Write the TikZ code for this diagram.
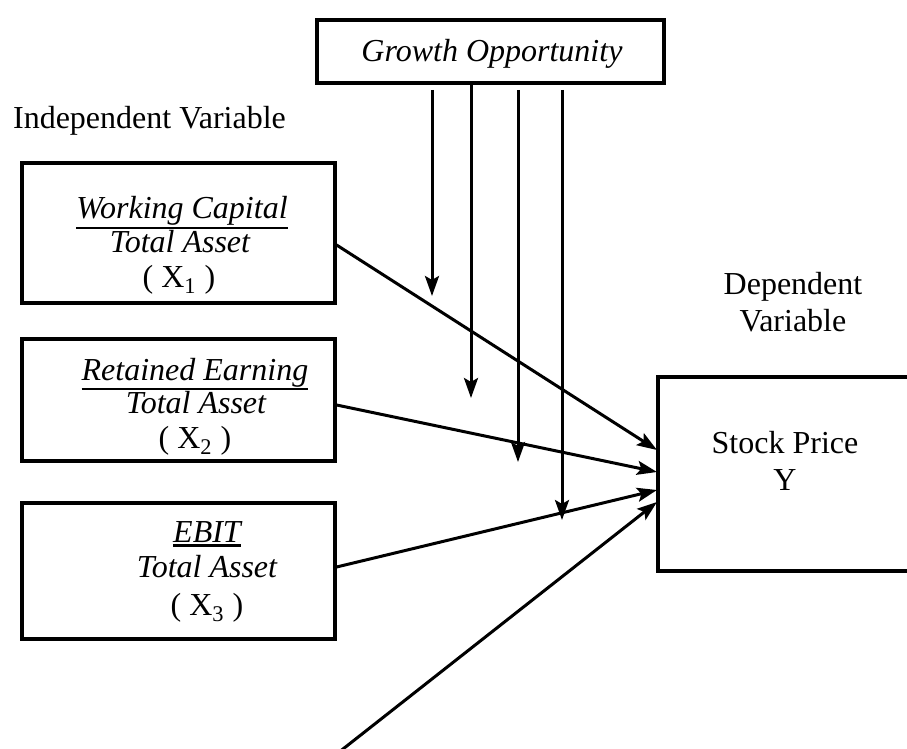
\documentclass[tikz,border=0pt]{standalone}
\usepackage{fontspec}
\setmainfont{Liberation Serif}
\usetikzlibrary{arrows.meta,calc}
\newcommand\myul[1]{\leavevmode\vtop{\hbox{#1}\kern0.6pt\hrule height 1.2pt}}
\begin{document}
\begin{tikzpicture}[x=0.5pt,y=-0.5pt,
  box/.style={draw,line width=1.6pt,inner sep=0pt},
  txt/.style={anchor=base,font=\fontsize{16}{17}\selectfont,inner sep=0pt},
  itxt/.style={txt,font=\fontsize{16}{17}\selectfont\itshape},
  conn/.style={line width=1.5pt,-{Stealth[length=10pt,width=7pt,inset=2pt]}}]
\useasboundingbox (0,0) rectangle (907,749);
% boxes
\node[box,minimum width=347*0.5pt,minimum height=63*0.5pt] (go) at (490.5,51.5) {};
\node[box,minimum width=313*0.5pt,minimum height=140*0.5pt] (b1) at (178.5,233) {};
\node[box,minimum width=313*0.5pt,minimum height=122*0.5pt] (b2) at (178.5,400) {};
\node[box,minimum width=313*0.5pt,minimum height=136*0.5pt] (b3) at (178.5,571) {};
\node[box,minimum width=300*0.5pt,minimum height=194*0.5pt] (yb) at (808,474) {};
% texts
\node[itxt] (tgo) at (492,62) {Growth Opportunity};
\node[txt] (tiv) at (149.5,129) {Independent Variable};
\node[txt] (tdv1) at (793,295) {Dependent};
\node[txt] (tdv2) at (793,332) {Variable};
\node[itxt] (t1a) at (182,219) {\myul{Working Capital}};
\node[itxt] (t1b) at (180,253) {Total Asset};
\node[txt] (t1c) at (179,288) {( X\textsubscript{1} )};
\node[itxt] (t2a) at (195,380) {\myul{Retained Earning}};
\node[itxt] (t2b) at (196,414) {Total Asset};
\node[txt] (t2c) at (195,449) {( X\textsubscript{2} )};
\node[itxt] (t3a) at (207,543) {\myul{EBIT}};
\node[itxt] (t3b) at (207,578) {Total Asset};
\node[txt] (t3c) at (207,616) {( X\textsubscript{3} )};
\node[txt] (tyb1) at (785,453) {Stock Price};
\node[txt] (tyb2) at (785,490) {Y};
% coordinates
\coordinate (e1) at (657,450);
\coordinate (e2) at (657,472);
\coordinate (e3) at (657,490);
\coordinate (e4) at (657,502);
\coordinate (s4) at (329,760);
\coordinate (v1s) at (432,90);  \coordinate (v1e) at (432,296);
\coordinate (v2e) at (471,398);
\coordinate (v3s) at (518,90);  \coordinate (v3e) at (518,462);
\coordinate (v4s) at (562,90);  \coordinate (v4e) at (562,520);
% connectors
\draw[conn] ($(b1.east)+(0,12)$) -- (e1);
\draw[conn] ($(b2.east)+(0,5)$) -- (e2);
\draw[conn] ($(b3.east)+(0,-4)$) -- (e3);
\draw[conn] (s4) -- (e4);
\draw[conn] (v1s) -- (v1e);
\draw[conn] (go.south -| v2e) -- (v2e);
\draw[conn] (v3s) -- (v3e);
\draw[conn] (v4s) -- (v4e);
\end{tikzpicture}
\end{document}
